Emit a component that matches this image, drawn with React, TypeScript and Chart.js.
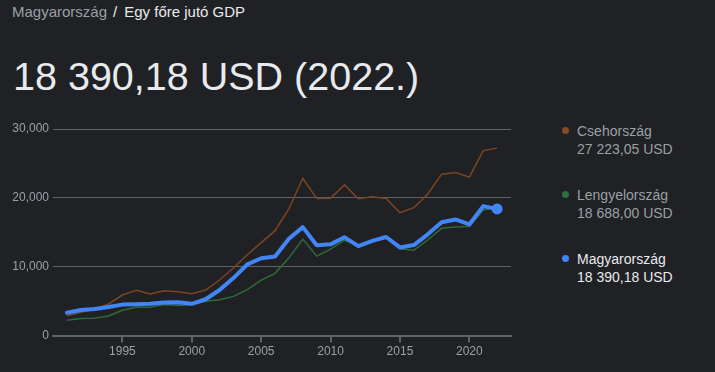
import React, { useEffect, useRef } from 'react';
import { Chart, registerables } from 'chart.js';

Chart.register(...registerables);

const years = [
  1991, 1992, 1993, 1994, 1995, 1996, 1997, 1998, 1999, 2000, 2001, 2002, 2003, 2004, 2005, 2006,
  2007, 2008, 2009, 2010, 2011, 2012, 2013, 2014, 2015, 2016, 2017, 2018, 2019, 2020, 2021, 2022,
];
const hungary = [
  3330, 3720, 3850, 4150, 4500, 4560, 4640, 4800, 4850, 4620, 5280, 6620, 8350, 10350, 11230, 11500,
  14050, 15750, 13120, 13250, 14290, 13000, 13750, 14320, 12800, 13150, 14700, 16460, 16860, 16140, 18800, 18390.18,
];
const czech = [
  2890, 3380, 3810, 4590, 5890, 6570, 6040, 6520, 6370, 6080, 6620, 8070, 9820, 11750, 13500, 15240,
  18420, 22850, 19900, 19950, 21890, 19880, 20150, 19910, 17840, 18570, 20550, 23440, 23690, 23010, 26860, 27223.05,
];
const poland = [
  2230, 2480, 2520, 2860, 3690, 4100, 4100, 4500, 4370, 4500, 4990, 5200, 5690, 6680, 8050, 9040,
  11290, 14010, 11540, 12550, 13850, 13010, 13780, 14250, 12600, 12400, 13880, 15580, 15760, 15860, 18250, 18688,
];
const xTicks = [1995, 2000, 2005, 2010, 2015, 2020];
const yTicks = [0, 10000, 20000, 30000];

const seriesNames = ['Csehország', 'Lengyelország', 'Magyarország'];
const seriesValueLabels = ['27 223,05 USD', '18 688,00 USD', '18 390,18 USD'];
const seriesColors = ['#7c4522', '#2e6b3a', '#4285f4'];
const dotColors = ['#8b4a1f', '#2e7040', '#4285f4'];

const FONT = "Arial, 'Liberation Sans', Helvetica, sans-serif";
const BG = '#202124';
const GRID = '#5f6368';
const TEXT_GREY = '#9aa0a6';
const TEXT_WHITE = '#e8eaed';

function toPoints(vals: number[]) {
  return years.map((y, i) => ({ x: y, y: vals[i] }));
}

export default function App() {
  const canvasRef = useRef<HTMLCanvasElement | null>(null);

  useEffect(() => {
    document.body.style.margin = '0';
    document.body.style.background = BG;
    const canvas = canvasRef.current;
    if (!canvas) return;
    const last = years.length - 1;
    const chart = new Chart(canvas, {
      type: 'line',
      data: {
        datasets: [
          {
            label: seriesNames[2],
            data: toPoints(hungary),
            borderColor: seriesColors[2],
            backgroundColor: seriesColors[2],
            borderWidth: 4,
            borderJoinStyle: 'round',
            borderCapStyle: 'round',
            tension: 0,
            pointRadius: (ctx: any) => (ctx.dataIndex === last ? 5.5 : 0),
            pointBorderWidth: 0,
            pointBackgroundColor: seriesColors[2],
            pointHoverRadius: 0,
            order: 0,
          },
          {
            label: seriesNames[1],
            data: toPoints(poland),
            borderColor: seriesColors[1],
            borderWidth: 1.5,
            tension: 0,
            pointRadius: 0,
            order: 1,
          },
          {
            label: seriesNames[0],
            data: toPoints(czech),
            borderColor: seriesColors[0],
            borderWidth: 1.5,
            tension: 0,
            pointRadius: 0,
            order: 2,
          },
        ],
      },
      options: {
        animation: false,
        responsive: false,
        devicePixelRatio: 1,
        layout: { padding: { top: 19, right: 9, left: 0, bottom: 0 } },
        plugins: { legend: { display: false }, tooltip: { enabled: false } },
        events: [],
        scales: {
          x: {
            type: 'linear',
            min: 1990,
            max: 2023,
            afterBuildTicks: (s: any) => {
              s.ticks = xTicks.map((v) => ({ value: v }));
            },
            afterFit: (s: any) => {
              s.height = 36.4;
            },
            grid: {
              drawOnChartArea: false,
              drawTicks: true,
              tickLength: 7,
              color: GRID,
              lineWidth: 2,
            },
            border: { display: true, color: GRID, width: 2 },
            ticks: {
              color: TEXT_GREY,
              font: { family: FONT, size: 12 },
              padding: 2,
              maxRotation: 0,
              autoSkip: false,
              callback: (v: any) => String(v),
            },
          },
          y: {
            type: 'linear',
            min: 0,
            max: 30000,
            afterBuildTicks: (s: any) => {
              s.ticks = yTicks.map((v) => ({ value: v }));
            },
            afterFit: (s: any) => {
              s.width = 53;
            },
            grid: { color: GRID, lineWidth: 1, drawTicks: false },
            border: { display: false },
            ticks: {
              color: TEXT_GREY,
              font: { family: FONT, size: 12 },
              padding: 4,
              callback: (v: any) => Number(v).toLocaleString('en-US'),
            },
          },
        },
      } as any,
    });
    return () => chart.destroy();
  }, []);

  const legendTops = [121.5, 185.5, 249.5];

  return (
    <div
      style={{
        position: 'absolute',
        left: 0,
        top: 0,
        width: 715,
        height: 372,
        background: BG,
        overflow: 'hidden',
        fontFamily: FONT,
      }}
    >
      <div
        style={{
          position: 'absolute',
          left: 12,
          top: 2,
          fontSize: 15,
          lineHeight: '20px',
          whiteSpace: 'nowrap',
        }}
      >
        <span style={{ color: TEXT_GREY }}>Magyarország</span>
        <span style={{ color: TEXT_WHITE, margin: '0 7px 0 6px' }}>/</span>
        <span style={{ color: TEXT_WHITE }}>Egy főre jutó GDP</span>
      </div>
      <div
        style={{
          position: 'absolute',
          left: 13,
          top: 54.4,
          fontSize: 39.5,
          lineHeight: '45px',
          color: TEXT_WHITE,
          whiteSpace: 'nowrap',
        }}
      >
        18 390,18 USD (2022.)
      </div>
      <canvas
        ref={canvasRef}
        width={520}
        height={262}
        style={{ position: 'absolute', left: 0, top: 110, width: 520, height: 262 }}
      />
      {seriesNames.map((name, i) => (
        <div key={name}>
          <div
            style={{
              position: 'absolute',
              left: 561.5,
              top: legendTops[i] + 13.85 - 5 - 3.5,
              width: 7,
              height: 7,
              borderRadius: '50%',
              background: dotColors[i],
            }}
          />
          <div
            style={{
              position: 'absolute',
              left: 577,
              top: legendTops[i],
              fontSize: 14,
              lineHeight: '18px',
              color: i === 2 ? TEXT_WHITE : TEXT_GREY,
              whiteSpace: 'nowrap',
            }}
          >
            <div>{name}</div>
            <div>{seriesValueLabels[i]}</div>
          </div>
        </div>
      ))}
    </div>
  );
}
